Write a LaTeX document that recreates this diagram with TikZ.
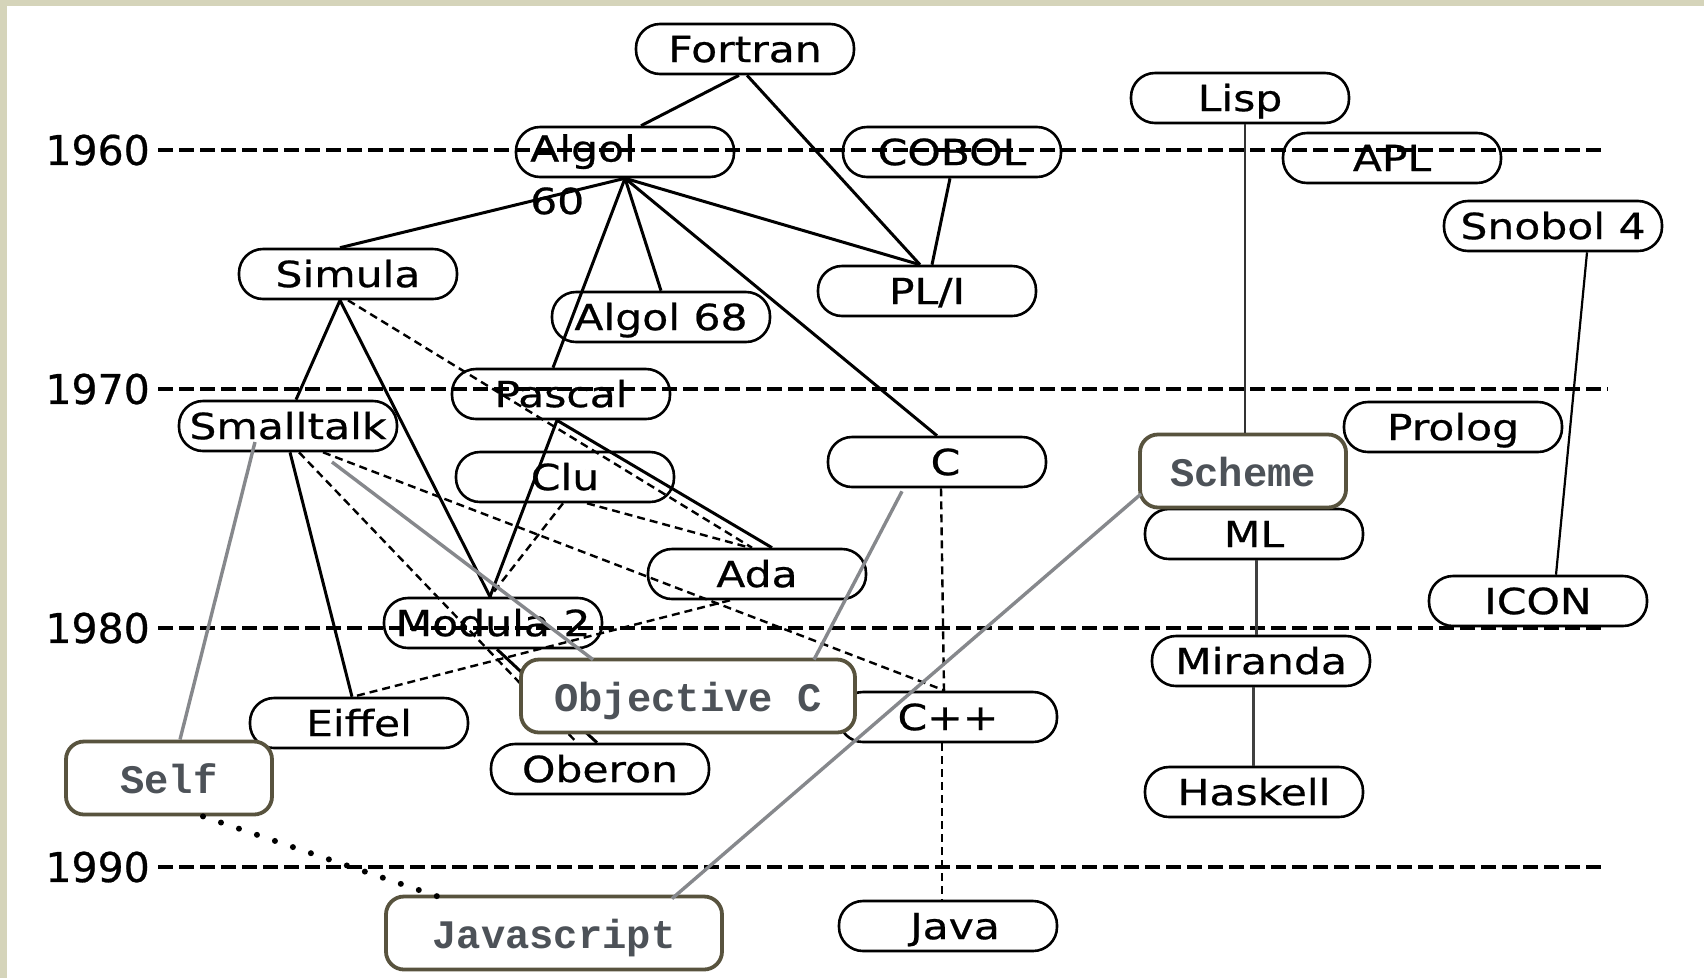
\documentclass[tikz,border=0pt]{standalone}
\usepackage{fontspec}
\newfontfamily\langfont[FakeStretch=1.18,FakeBold=0.6]{DejaVu Sans}
\newfontfamily\yearfont[FakeBold=0.6]{DejaVu Sans}
\newfontfamily\monofont{Liberation Mono}
\definecolor{beigeband}{RGB}{213,212,186}
\definecolor{grayline}{RGB}{134,136,140}
\definecolor{boxborder}{RGB}{88,83,62}
\definecolor{monotext}{RGB}{77,82,88}
\begin{document}
\begin{tikzpicture}[x=1pt,y=-1pt,
  lang/.style={draw=black, line width=2.6pt, rounded corners=24pt, minimum width=218pt, minimum height=50pt, inner sep=0pt, text height=26.2pt, text depth=0pt, font=\langfont\fontsize{36}{43}\selectfont},
  newlang/.style={draw=boxborder, line width=3.8pt, rounded corners=18pt, fill=white, minimum height=73pt, inner sep=0pt, text=monotext, text height=31pt, text depth=0pt, font=\monofont\bfseries\fontsize{40.5}{48}\selectfont},
  year/.style={font=\yearfont\fontsize{41}{48}\selectfont, inner sep=0pt, anchor=east, text height=29.9pt, text depth=0pt},
  yearline/.style={line width=3.6pt, dash pattern=on 15pt off 6pt},
  edge/.style={line width=3pt},
  dedge/.style={line width=2.4pt, dash pattern=on 8pt off 5pt},
  gedge/.style={draw=grayline, line width=3.4pt},
  dotedge/.style={line width=6pt, line cap=round, dash pattern=on 0pt off 19pt}
]
\useasboundingbox (0,0) rectangle (1704,978);
\fill[white] (0,0) rectangle (1704,978);
\fill[beigeband] (0,0) rectangle (1704,6);
\fill[beigeband] (0,0) rectangle (7,978);

% year scale
\node[year] (y1960) at (150,150) {1960};
\node[year] (y1970) at (150,389) {1970};
\node[year] (y1980) at (150,628) {1980};
\node[year] (y1990) at (150,867) {1990};
\coordinate (e1960) at (1604,150);
\coordinate (e1970) at (1608,389);
\coordinate (e1980) at (1606,628);
\coordinate (e1990) at (1606,867);
\draw[yearline] ([xshift=8pt]y1960.east) -- (e1960);
\draw[yearline] ([xshift=8pt]y1970.east) -- (e1970);
\draw[yearline] ([xshift=8pt]y1980.east) -- (e1980);
\draw[yearline] ([xshift=8pt]y1990.east) -- (e1990);

% languages
\node[lang] (fortran) at (745,49) {Fortran};
\node[lang] (algol) at (625,152) {};
\node[anchor=north west, align=left, inner sep=0pt, font=\langfont\fontsize{36}{52.5}\selectfont] (algoltext) at (530,134) {Algol\\60};
\node[lang] (cobol) at (952,152) {COBOL};
\node[lang] (lisp) at (1240,98) {Lisp};
\node[lang] (apl) at (1392,158) {APL};
\node[lang] (snobol) at (1553,226) {Snobol 4};
\node[lang] (simula) at (348,274) {Simula};
\node[lang] (algolsixtyeight) at (661,317) {Algol 68};
\node[lang] (pli) at (927,291) {PL/I};
\node[lang] (pascal) at (561,394) {Pascal};
\node[lang] (smalltalk) at (288,426) {Smalltalk};
\node[lang] (clu) at (565,477) {Clu};
\node[lang] (c) at (937,462) {\hspace*{17pt}C};
\node[lang] (prolog) at (1453,427) {Prolog};
\node[lang] (ml) at (1254,534) {ML};
\node[lang] (ada) at (757,574) {Ada};
\node[lang] (icon) at (1538,601) {ICON};
\node[lang] (modula) at (493,623) {Modula 2};
\node[lang] (miranda) at (1261,661) {Miranda};
\node[lang] (cpp) at (948,717) {C++};
\node[lang] (eiffel) at (359,723) {Eiffel};
\node[lang] (oberon) at (600,769) {Oberon};
\node[lang] (haskell) at (1254,792) {Haskell};
\node[lang] (java) at (948,926) {\hspace*{14pt}Java};

% solid influences
\draw[edge] ([xshift=-6pt]fortran.south) -- ([xshift=16pt]algol.north);
\draw[edge] ([xshift=2pt]fortran.south) -- ([xshift=-7pt]pli.north);
\draw[edge] (algol.south) -- ([xshift=-8pt]simula.north);
\draw[edge] (algol.south) -- (algolsixtyeight.north);
\draw[edge] (algol.south) -- ([xshift=-8pt]pascal.north);
\draw[edge] (algol.south) -- ([xshift=-7pt]pli.north);
\draw[edge] (algol.south) -- (c.north);
\draw[edge] ([xshift=-2pt]cobol.south) -- ([xshift=5pt]pli.north);
\draw[edge] ([xshift=-8pt]simula.south) -- ([xshift=8pt]smalltalk.north);
\draw[edge] ([xshift=-8pt]simula.south) -- ([xshift=-3pt]modula.north);
\draw[edge] ([xshift=-4pt]pascal.south) -- ([xshift=-3pt]modula.north);
\draw[edge] ([xshift=-4pt]pascal.south) -- ([xshift=15pt]ada.north);
\draw[edge] ([xshift=2pt]smalltalk.south) -- ([xshift=-7pt]eiffel.north);
\draw[edge] ([xshift=4pt]modula.south) -- ([xshift=-3pt]oberon.north);
\draw[edge, line width=2.2pt] ([xshift=34pt]snobol.south) -- ([xshift=18pt]icon.north);
\draw[edge, draw=black!75] ([xshift=2pt]ml.south) -- ([xshift=-5pt]miranda.north);
\draw[edge, draw=black!75] ([xshift=-8pt]miranda.south) -- ([xshift=-1pt]haskell.north);

% dashed influences
\draw[dedge] (simula.south) -- ([xshift=-5pt]ada.north);
\draw[dedge] ([xshift=22pt]clu.south) -- ([xshift=-7pt]ada.north);
\draw[dedge] ([xshift=-2pt]clu.south) -- ([xshift=-3pt]modula.north);
\draw[dedge] ([xshift=35pt]smalltalk.south) -- ([xshift=-3pt]cpp.north);
\draw[dedge] ([xshift=11pt]smalltalk.south) -- ([xshift=-23pt]oberon.north);
\draw[dedge] ([xshift=-27pt]ada.south) -- ([xshift=-6pt]eiffel.north);
\draw[dedge] ([xshift=4pt]c.south) -- ([xshift=-4pt]cpp.north);
\draw[dedge] ([xshift=-6pt]cpp.south) -- ([xshift=-6pt]java.north);

% added languages
\node[newlang, minimum width=206pt] (scheme) at (1243,471) {Scheme};
\node[newlang, minimum width=334pt] (objc) at (688,696) {Objective C};
\node[newlang, minimum width=206pt] (self) at (169,778) {Self};
\node[newlang, minimum width=336pt] (js) at (554,933) {Javascript};

\draw[edge, line width=2.2pt, draw=black!80] ([xshift=5pt]lisp.south) -- ([xshift=2pt]scheme.north);
\draw[gedge] ([xshift=-33pt,yshift=-16pt]smalltalk.center) -- ([xshift=11pt]self.north);
\draw[gedge] ([xshift=44pt,yshift=-36pt]smalltalk.center) -- ([xshift=-95pt,yshift=-2pt]objc.north);
\draw[gedge] ([xshift=-35pt,yshift=-3pt]c.south) -- ([xshift=126pt,yshift=-2pt]objc.north);
\draw[gedge] ([xshift=-102pt,yshift=-23pt]scheme.center) -- ([xshift=118pt,yshift=-4pt]js.north);
\draw[dotedge] ([xshift=34pt]self.south) -- ([xshift=-107pt,yshift=-5pt]js.north);
\end{tikzpicture}
\end{document}
